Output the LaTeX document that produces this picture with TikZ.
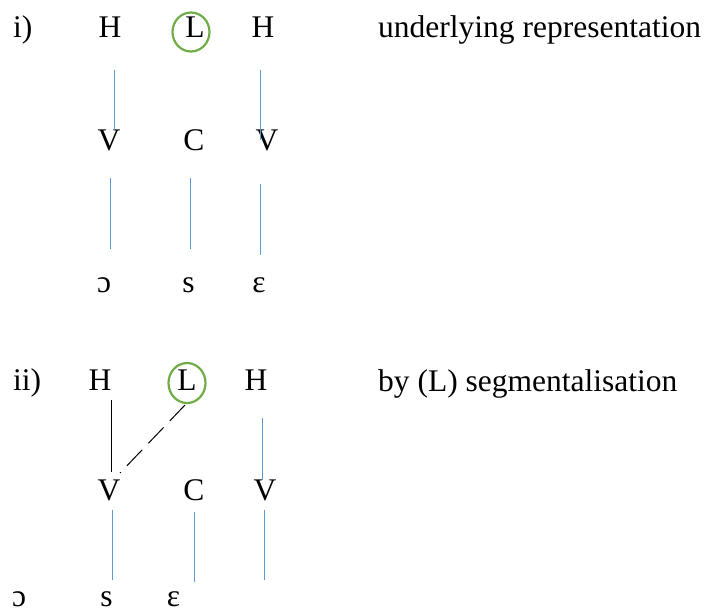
\documentclass[tikz,border=0pt]{standalone}
\usepackage{fontspec}
\setmainfont{Liberation Serif}
\definecolor{tierblue}{RGB}{91,155,213}
\definecolor{ringgreen}{RGB}{112,173,71}
\tikzset{
  seg/.style={anchor=base, inner sep=0pt, font=\fontsize{31.5}{36}\selectfont},
  note/.style={anchor=base west, inner sep=0pt, font=\fontsize{31.5}{36}\selectfont},
  tier/.style={draw=tierblue, line width=1pt},
  link/.style={draw=black, line width=1pt},
  ring/.style={draw=ringgreen, line width=2.2pt},
}

\begin{document}
\begin{tikzpicture}[x=1pt, y=-1pt]
\useasboundingbox (0,0) rectangle (706,614);

%%%%%%%%%% i) underlying
\node[note] (numA) at (13,37) {i)};
\node[seg] (hA) at (110,37) {H};
\node[seg] (lA) at (195,37) {L};
\node[seg] (hB) at (263,37) {H};
\node[note] (txtA) at (378,37) {underlying representation};
\draw[ring] ([shift={(-4,-5)}]lA.base) ellipse [x radius=18.5pt, y radius=19.5pt];

\node[seg] (vA) at (109,150) {V};
\node[seg] (cA) at (194,150) {C};
\node[seg] (vB) at (267,150) {V};

\node[seg] (sA) at (104,292) {ɔ};
\node[seg] (sB) at (188.5,292) {s};
\node[seg] (sC) at (259,292) {ɛ};

\draw[tier] (hA.base) ++(4,33) -- ++(0,60);
\draw[tier] (hB.base) ++(-3,33) -- ++(0,70);
\draw[tier] (vA.base) ++(1,28) -- ++(0,71);
\draw[tier] (cA.base) ++(-4,28) -- ++(0,71);
\draw[tier] (vB.base) ++(-7,34) -- ++(0,71);

%%%%%%%%%% ii) segmentalisation
\node[note] (numB) at (13,390) {ii)};
\node[seg] (hC) at (100,390) {H};
\node[seg] (lB) at (187,390) {L};
\node[seg] (hD) at (256,390) {H};
\node[note] (txtB) at (378,391) {by (L) segmentalisation};
\draw[ring] ([shift={(0,-7)}]lB.base) ellipse [x radius=18.5pt, y radius=20pt];

\node[seg] (vC) at (109,500) {V};
\node[seg] (cB) at (194,500) {C};
\node[seg] (vD) at (265,500) {V};

\node[seg] (sD) at (19,606) {ɔ};
\node[seg] (sE) at (106.5,606) {s};
\node[seg] (sF) at (173.5,606) {ɛ};

\draw[link] (hC.base) ++(11,10) -- ++(0,72);
\draw[link, dash pattern=on 22pt off 9pt] (lB.base) ++(-2,15) -- ++(-65,68);
\draw[tier] (hD.base) ++(6,28) -- ++(0,62);
\draw[tier] (vC.base) ++(3,10) -- ++(0,70);
\draw[tier] (cB.base) ++(0,12) -- ++(0,70);
\draw[tier] (vD.base) ++(-1,10) -- ++(0,70);
\end{tikzpicture}
\end{document}
